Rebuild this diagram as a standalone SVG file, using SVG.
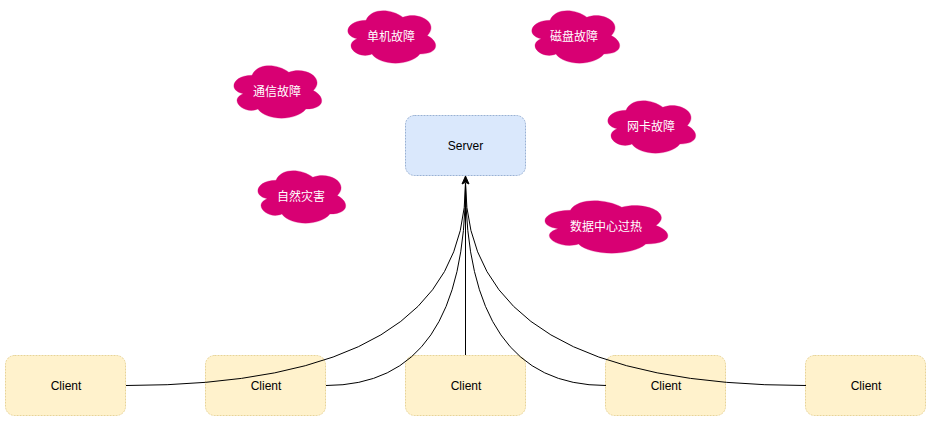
<svg xmlns="http://www.w3.org/2000/svg" width="931" height="421" viewBox="0 0 931 421">
<style>
text{font-family:"Liberation Sans","Noto Sans CJK SC",sans-serif;font-size:12px;text-anchor:middle;fill:#000}
.client{fill:#fff2cc;stroke:#d6b656;stroke-dasharray:2 1;stroke-opacity:.55}
.server{fill:#dae8fc;stroke:#6c8ebf;stroke-dasharray:2 1;stroke-opacity:.65}
.cloud{fill:#d80073;stroke:#d80073;stroke-opacity:.3}
.cloudtext{fill:#fff}
.edge{fill:none;stroke:#000;stroke-width:1}
</style>
<defs>
<path id="c100" d="M24.500 15.300C4.900 15.300 0 30.600 15.700 33.700C0 40.400 17.600 55.100 30.400 49C39.200 61.200 68.600 61.200 78.400 49C98 49 98 36.700 85.800 30.600C98 18.400 78.400 6.100 61.300 12.200C49 3.100 29.400 3.100 24.500 15.300Z"/>
<path id="c140" d="M34.300 15.300C6.900 15.300 0 30.600 22 33.700C0 40.400 24.700 55.100 42.500 49C54.900 61.200 96 61.200 109.800 49C137.200 49 137.200 36.700 120 30.600C137.200 18.400 109.800 6.100 85.800 12.200C68.600 3.100 41.200 3.100 34.300 15.300Z"/>
</defs>
<g id="server"><rect class="server" x="405.500" y="115.500" width="120" height="60" rx="9"/><text x="465.500" y="149.500">Server</text></g>
<g id="client1"><rect class="client" x="5.500" y="355.500" width="120" height="60" rx="9"/><text x="66" y="389.500">Client</text></g>
<g id="client2"><rect class="client" x="205.500" y="355.500" width="120" height="60" rx="9"/><text x="266" y="389.500">Client</text></g>
<g id="client3"><rect class="client" x="405.500" y="355.500" width="120" height="60" rx="9"/><text x="466" y="389.500">Client</text></g>
<g id="client4"><rect class="client" x="605.500" y="355.500" width="120" height="60" rx="9"/><text x="666" y="389.500">Client</text></g>
<g id="client5"><rect class="client" x="805.500" y="355.500" width="120" height="60" rx="9"/><text x="866" y="389.500">Client</text></g>
<g id="connectors">
<path class="edge" d="M126 385.500Q466 385.500 465.500 183"/>
<path class="edge" d="M326 385.500Q466 385.500 465.500 183"/>
<path class="edge" d="M465.500 355V183"/>
<path class="edge" d="M606 385.500Q466 385.500 465.500 183"/>
<path class="edge" d="M806 385.500Q466 385.500 465.500 183"/>
<path d="M465.500 176L469 184L465.500 182.300L462 184Z" fill="#000" stroke="#000"/>
</g>
<g id="cloud-single"><use href="#c100" class="cloud" x="341.500" y="5"/><text class="cloudtext" x="391" y="41">单机故障</text></g>
<g id="cloud-disk"><use href="#c100" class="cloud" x="525.500" y="5"/><text class="cloudtext" x="574" y="41">磁盘故障</text></g>
<g id="cloud-comm"><use href="#c100" class="cloud" x="227.500" y="60"/><text class="cloudtext" x="277" y="96">通信故障</text></g>
<g id="cloud-nic"><use href="#c100" class="cloud" x="601.500" y="95"/><text class="cloudtext" x="651" y="131">网卡故障</text></g>
<g id="cloud-nature"><use href="#c100" class="cloud" x="251.500" y="165"/><text class="cloudtext" x="301" y="201">自然灾害</text></g>
<g id="cloud-overheat"><use href="#c140" class="cloud" x="536" y="195"/><text class="cloudtext" x="606" y="231">数据中心过热</text></g>
</svg>
